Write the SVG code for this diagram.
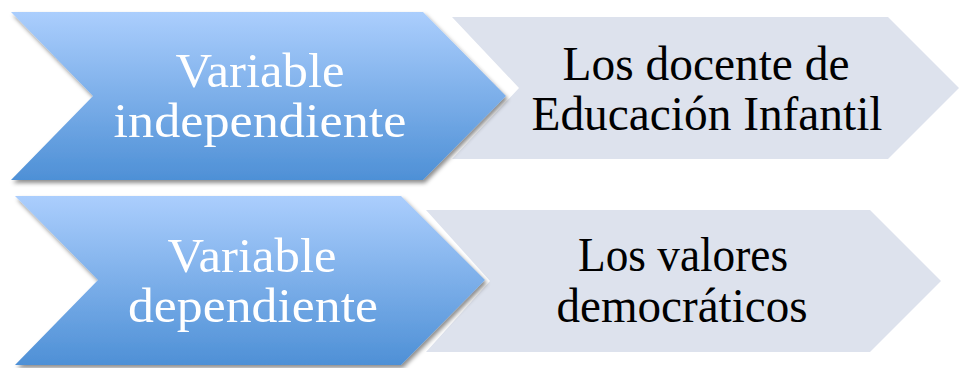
<svg xmlns="http://www.w3.org/2000/svg" width="967" height="368" viewBox="0 0 967 368">
<defs>
<linearGradient id="blueGrad" x1="0" y1="0" x2="0" y2="1">
<stop offset="0" stop-color="#abcefd"/>
<stop offset="1" stop-color="#4e90d6"/>
</linearGradient>
<filter id="shadow" x="-5%" y="-5%" width="115%" height="120%">
<feDropShadow dx="2" dy="3" stdDeviation="2" flood-color="#000" flood-opacity="0.45"/>
</filter>
<style>
.blue{fill:url(#blueGrad);filter:url(#shadow);}
.gray{fill:#dde2ed;}
.tw{font-family:"Liberation Serif","Times New Roman",serif;font-size:48px;fill:#ffffff;text-anchor:middle;}
.tb{font-family:"Liberation Serif","Times New Roman",serif;font-size:48px;fill:#000000;text-anchor:middle;}
</style>
</defs>
<g id="connectors"></g>
<g id="node-gray1">
<path class="gray" d="M452,17 L888,17 L959,88 L888,159 L452,159 L519,88 Z"/>
<text class="tb" x="706" y="80" textLength="287" lengthAdjust="spacingAndGlyphs">Los docente de</text>
<text class="tb" x="707" y="130" textLength="351" lengthAdjust="spacingAndGlyphs">Educación Infantil</text>
</g>
<g id="node-gray2">
<path class="gray" d="M426,210 L870,210 L941,281 L870,352 L426,352 L490,281 Z"/>
<text class="tb" x="683" y="271" textLength="210" lengthAdjust="spacingAndGlyphs">Los valores</text>
<text class="tb" x="682" y="322" textLength="251" lengthAdjust="spacingAndGlyphs">democráticos</text>
</g>
<g id="node-blue1">
<path class="blue" d="M11,12 L423,12 L506,96 L423,180 L11,180 L93,96 Z"/>
<text class="tw" x="260" y="87" textLength="169" lengthAdjust="spacingAndGlyphs">Variable</text>
<text class="tw" x="260" y="137" textLength="293" lengthAdjust="spacingAndGlyphs">independiente</text>
</g>
<g id="node-blue2">
<path class="blue" d="M15,196 L401,196 L485,280 L401,365 L15,365 L98,280 Z"/>
<text class="tw" x="252" y="272" textLength="169" lengthAdjust="spacingAndGlyphs">Variable</text>
<text class="tw" x="253" y="322" textLength="250" lengthAdjust="spacingAndGlyphs">dependiente</text>
</g>
</svg>
